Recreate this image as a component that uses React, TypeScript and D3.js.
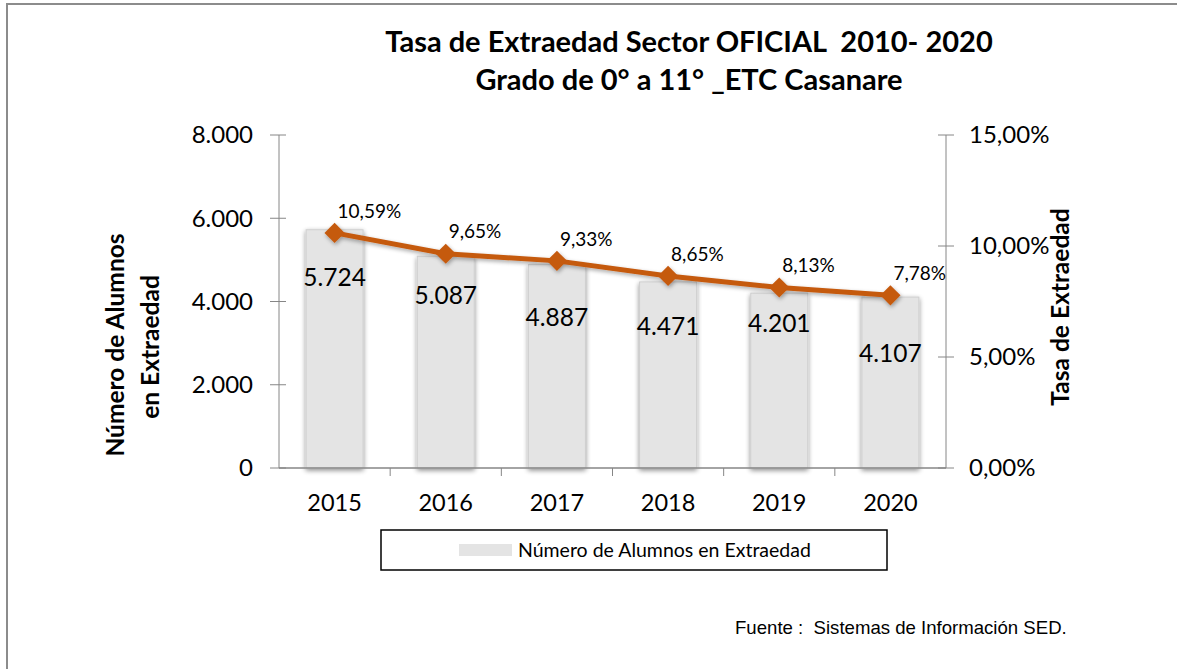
import React from "react";
import * as d3 from "d3";

const years = ["2015", "2016", "2017", "2018", "2019", "2020"];
const alumnos = [5724, 5087, 4887, 4471, 4201, 4107];
const tasa = [10.59, 9.65, 9.33, 8.65, 8.13, 7.78];
const leftTicks = [0, 2000, 4000, 6000, 8000];
const rightTicks = [0, 5, 10, 15];
const barLabelOffset = [48, 39, 53, 45, 30, 56];

const W = 1177;
const H = 669;
const FONT = "Lato, 'Open Sans', sans-serif";
const LINE = "#C55A11";
const AXIS = "#868686";

const fmtInt = (v: number) => d3.format(",")(v).replace(/,/g, ".");
const fmtPct = (v: number) => v.toFixed(2).replace(".", ",") + "%";

export default function App() {
  const x = d3.scaleBand<string>().domain(years).range([279, 946]).paddingInner(0).paddingOuter(0);
  const yL = d3.scaleLinear().domain([0, 8000]).range([468, 135]);
  const yR = d3.scaleLinear().domain([0, 15]).range([468, 135]);
  const barW = 57;
  const cx = (d: string) => (x(d) as number) + x.bandwidth() / 2;
  const line = d3
    .line<number>()
    .x((_, i) => cx(years[i]))
    .y((v) => yR(v));
  const [x0, x1] = x.range();

  return (
    <svg width={W} height={H} style={{ position: "absolute", left: 0, top: 0, background: "#fff" }} fontFamily={FONT}>
      <defs>
        <filter id="sh" x="-30%" y="-10%" width="160%" height="130%">
          <feGaussianBlur in="SourceAlpha" stdDeviation="2.5" />
          <feOffset dx="0" dy="2" result="b" />
          <feComponentTransfer>
            <feFuncA type="linear" slope="0.45" />
          </feComponentTransfer>
          <feMerge>
            <feMergeNode />
            <feMergeNode in="SourceGraphic" />
          </feMerge>
        </filter>
        <filter id="lsh" x="-10%" y="-30%" width="120%" height="160%">
          <feGaussianBlur in="SourceAlpha" stdDeviation="2" />
          <feOffset dx="1" dy="2" />
          <feComponentTransfer>
            <feFuncA type="linear" slope="0.35" />
          </feComponentTransfer>
          <feMerge>
            <feMergeNode />
            <feMergeNode in="SourceGraphic" />
          </feMerge>
        </filter>
      </defs>
      <rect x={7} y={4} width={W + 20} height={H + 20} fill="#fff" stroke="#8c8c8c" strokeWidth={2} />

      {/* Title */}
      <text x={689} y={52} textAnchor="middle" fontWeight="bold" fontSize={29} fill="#000" style={{ whiteSpace: "pre" }}>
        Tasa de Extraedad Sector OFICIAL  2010- 2020
      </text>
      <text x={689} y={90} textAnchor="middle" fontWeight="bold" fontSize={29} fill="#000">
        Grado de 0° a 11° _ETC Casanare
      </text>

      {/* Bars */}
      {alumnos.map((v, i) => (
        <rect
          key={"b" + i}
          x={cx(years[i]) - barW / 2}
          y={yL(v)}
          width={barW}
          height={yL(0) - yL(v)}
          fill="#e4e4e4"
          stroke="#cfcfcf"
          strokeWidth={1}
          filter="url(#sh)"
        />
      ))}

      {/* Axes */}
      <line x1={x0} x2={x1} y1={yL(0)} y2={yL(0)} stroke={AXIS} strokeWidth={1.5} />
      <line x1={x0} x2={x0} y1={yL(8000)} y2={yL(0)} stroke={AXIS} strokeWidth={1} />
      <line x1={x1} x2={x1} y1={yR(15)} y2={yR(0)} stroke={AXIS} strokeWidth={1} />
      {leftTicks.map((t) => (
        <g key={"lt" + t}>
          <line x1={x0 - 9} x2={x0 + 7} y1={yL(t)} y2={yL(t)} stroke={AXIS} />
          <text x={x0 - 26} y={yL(t)} dy="0.35em" textAnchor="end" fontSize={24} fill="#000">
            {fmtInt(t)}
          </text>
        </g>
      ))}
      {rightTicks.map((t) => (
        <g key={"rt" + t}>
          <line x1={x1 - 8} x2={x1 + 8} y1={yR(t)} y2={yR(t)} stroke={AXIS} />
          <text x={x1 + 23} y={yR(t)} dy="0.35em" textAnchor="start" fontSize={24} fill="#000">
            {fmtPct(t)}
          </text>
        </g>
      ))}
      {years.slice(0, -1).map((d) => (
        <line key={"xt" + d} x1={(x(d) as number) + x.bandwidth()} x2={(x(d) as number) + x.bandwidth()} y1={yL(0)} y2={yL(0) + 8} stroke={AXIS} />
      ))}
      {years.map((d) => (
        <text key={"xl" + d} x={cx(d)} y={503} dy="0.35em" textAnchor="middle" fontSize={23.5} fill="#000">
          {d}
        </text>
      ))}

      {/* Bar labels */}
      {alumnos.map((v, i) => (
        <text key={"bl" + i} x={cx(years[i])} y={yL(v) + barLabelOffset[i]} dy="0.35em" textAnchor="middle" fontSize={24.5} fill="#000">
          {fmtInt(v)}
        </text>
      ))}

      {/* Line */}
      <g filter="url(#lsh)">
        <path d={line(tasa) as string} fill="none" stroke={LINE} strokeWidth={5} strokeLinejoin="round" />
        {tasa.map((v, i) => (
          <path
            key={"m" + i}
            d={d3.symbol().type(d3.symbolDiamond2).size(260)() as string}
            transform={`translate(${cx(years[i])},${yR(v)})`}
            fill={LINE}
          />
        ))}
      </g>
      {tasa.map((v, i) => (
        <text key={"pl" + i} x={cx(years[i]) + 3} y={yR(v) - 22} dy="0.35em" textAnchor="start" fontSize={19} fill="#000">
          {fmtPct(v)}
        </text>
      ))}

      {/* Axis titles */}
      <text transform="translate(115,345) rotate(-90)" textAnchor="middle" dy="0.35em" fontWeight="bold" fontSize={24.5} fill="#000">
        Número de Alumnos
      </text>
      <text transform="translate(150,347) rotate(-90)" textAnchor="middle" dy="0.35em" fontWeight="bold" fontSize={24.5} fill="#000">
        en Extraedad
      </text>
      <text transform="translate(1060,307) rotate(-90)" textAnchor="middle" dy="0.35em" fontWeight="bold" fontSize={24.5} fill="#000">
        Tasa de Extraedad
      </text>

      {/* Legend */}
      <rect x={381} y={530} width={506} height={40} fill="#fff" stroke="#000" strokeWidth={1.5} />
      <rect x={459} y={544} width={53} height={12} fill="#e4e4e4" />
      <text x={518} y={550} dy="0.35em" fontSize={19.5} fill="#000">
        Número de Alumnos en Extraedad
      </text>

      {/* Source */}
      <text x={735} y={627} dy="0.35em" fontSize={18.6} fontFamily="'Liberation Sans', Arial, sans-serif" fill="#000" style={{ whiteSpace: "pre" }}>
        Fuente :  Sistemas de Información SED.
      </text>
    </svg>
  );
}
